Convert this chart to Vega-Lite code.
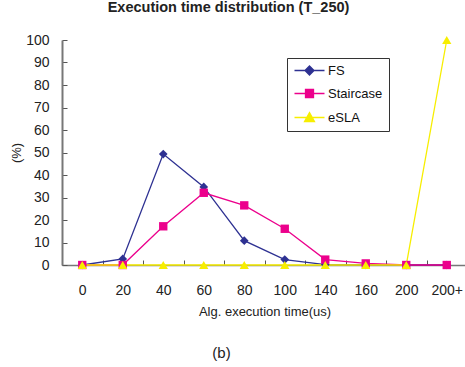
{
  "$schema": "https://vega.github.io/schema/vega-lite/v6.json",
  "width": 405,
  "height": 225,
  "autosize": {"type": "none"},
  "padding": {"left": 62, "top": 40, "right": 0, "bottom": 102},
  "background": "white",
  "title": {
    "text": "(b)",
    "orient": "bottom",
    "font": "Liberation Sans",
    "fontSize": 15,
    "fontWeight": "normal",
    "color": "#222",
    "anchor": "middle",
    "dx": -43,
    "offset": 28
  },
  "config": {
    "view": {"stroke": null},
    "font": "Liberation Sans",
    "axis": {"grid": false, "labelFont": "Liberation Sans", "titleFont": "Liberation Sans", "labelColor": "#222", "titleColor": "#222", "domainColor": "#777", "tickColor": "#555", "labelFontSize": 14, "titleFontSize": 13, "titleFontWeight": "normal"}
  },
  "data": {
    "values": [
      {"t": "0", "series": "FS", "v": 0},
      {"t": "20", "series": "FS", "v": 2.7},
      {"t": "40", "series": "FS", "v": 49.3},
      {"t": "60", "series": "FS", "v": 34.7},
      {"t": "80", "series": "FS", "v": 10.8},
      {"t": "100", "series": "FS", "v": 2.4},
      {"t": "140", "series": "FS", "v": 0.2},
      {"t": "160", "series": "FS", "v": 0},
      {"t": "200", "series": "FS", "v": 0},
      {"t": "200+", "series": "FS", "v": 0},
      {"t": "0", "series": "Staircase", "v": 0},
      {"t": "20", "series": "Staircase", "v": 0},
      {"t": "40", "series": "Staircase", "v": 17.2},
      {"t": "60", "series": "Staircase", "v": 32.1},
      {"t": "80", "series": "Staircase", "v": 26.5},
      {"t": "100", "series": "Staircase", "v": 16.1},
      {"t": "140", "series": "Staircase", "v": 2.4},
      {"t": "160", "series": "Staircase", "v": 0.7},
      {"t": "200", "series": "Staircase", "v": 0},
      {"t": "200+", "series": "Staircase", "v": 0},
      {"t": "0", "series": "eSLA", "v": 0},
      {"t": "20", "series": "eSLA", "v": 0},
      {"t": "40", "series": "eSLA", "v": 0},
      {"t": "60", "series": "eSLA", "v": 0},
      {"t": "80", "series": "eSLA", "v": 0},
      {"t": "100", "series": "eSLA", "v": 0},
      {"t": "140", "series": "eSLA", "v": 0},
      {"t": "160", "series": "eSLA", "v": 0},
      {"t": "200", "series": "eSLA", "v": 0},
      {"t": "200+", "series": "eSLA", "v": 100}
    ]
  },
  "encoding": {
    "x": {
      "field": "t",
      "type": "ordinal",
      "sort": ["0", "20", "40", "60", "80", "100", "140", "160", "200", "200+"],
      "scale": {"type": "band", "paddingInner": 0, "paddingOuter": 0},
      "axis": null
    },
    "y": {
      "field": "v",
      "type": "quantitative",
      "scale": {"domain": [0, 100], "nice": false},
      "axis": {
        "values": [0, 10, 20, 30, 40, 50, 60, 70, 80, 90, 100],
        "tickSize": -5,
        "labelPadding": 18,
        "domainWidth": 2,
        "title": "(%)",
        "titlePadding": 2
      }
    },
    "color": {
      "field": "series",
      "type": "nominal",
      "scale": {"domain": ["FS", "Staircase", "eSLA"], "range": ["#2E3192", "#EC008C", "#F7EE00"]},
      "legend": {
        "title": null,
        "orient": "none",
        "legendX": 225,
        "legendY": 18,
        "strokeColor": "#333",
        "padding": 6,
        "symbolSize": 100,
        "symbolOffset": 10,
        "labelOffset": 12,
        "rowPadding": 8,
        "labelFontSize": 13,
        "labelColor": "#111",
        "labelFont": "Liberation Sans",
        "encode": {
          "symbols": {
            "update": {
              "shape": {"signal": "datum.value === 'FS' ? 'M-3,0H3M0,-0.9L0.9,0L0,0.9L-0.9,0Z' : (datum.value === 'Staircase' ? 'M-3,0H3M-0.8,-0.8H0.8V0.8H-0.8Z' : 'M-3,0H3M0,-1L1,0.8H-1Z')"},
              "fill": {"signal": "scale('color', datum.value)"},
              "stroke": {"signal": "scale('color', datum.value)"},
              "strokeWidth": {"value": 1.3},
              "opacity": {"value": 1},
              "fillOpacity": {"value": 1}
            }
          }
        }
      }
    }
  },
  "resolve": {"axis": {"x": "independent"}},
  "layer": [
    {
      "mark": {"type": "line", "strokeWidth": 1.3},
      "encoding": {
        "x": {
          "field": "t",
          "type": "ordinal",
          "sort": ["0", "20", "40", "60", "80", "100", "140", "160", "200", "200+"],
          "scale": {"type": "band", "paddingInner": 0, "paddingOuter": 0},
          "axis": {
            "orient": "bottom",
            "labelAngle": 0,
            "tickBand": "extent",
            "tickSize": -5,
            "labelPadding": 23,
            "domainWidth": 1.5,
            "title": "Alg. execution time(us)",
            "titlePadding": 8
          }
        }
      }
    },
    {
      "transform": [{"filter": "datum.series === 'FS'"}],
      "mark": {"type": "point", "shape": "diamond", "filled": true, "opacity": 1, "size": 75},
      "encoding": {}
    },
    {
      "transform": [{"filter": "datum.series === 'Staircase'"}],
      "mark": {"type": "point", "shape": "square", "filled": true, "opacity": 1, "size": 70},
      "encoding": {}
    },
    {
      "transform": [{"filter": "datum.series === 'eSLA'"}],
      "mark": {"type": "point", "shape": "triangle-up", "filled": true, "opacity": 1, "size": 85},
      "encoding": {
        "x": {
          "field": "t",
          "type": "ordinal",
          "sort": ["0", "20", "40", "60", "80", "100", "140", "160", "200", "200+"],
          "scale": {"type": "band", "paddingInner": 0, "paddingOuter": 0},
          "axis": {
            "orient": "top",
            "domain": false,
            "ticks": false,
            "labels": false,
            "title": "Execution time distribution (T_250)",
            "titleFontSize": 14.5,
            "titleFontWeight": "bold",
            "titleX": 166,
            "titleAlign": "center",
            "titlePadding": 26
          }
        }
      }
    }
  ]
}
